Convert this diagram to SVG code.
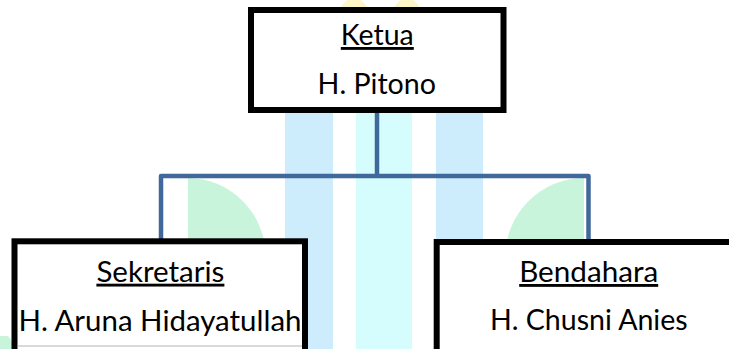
<svg xmlns="http://www.w3.org/2000/svg" width="729" height="349" viewBox="0 0 729 349">
  <style>
    .box { fill: #ffffff; stroke: #000000; stroke-width: 6; stroke-linejoin: miter; }
    .conn { fill: none; stroke: #41689a; stroke-width: 4.5; stroke-linejoin: round; }
    .t { font-family: Lato, "Open Sans", "Liberation Sans", sans-serif; font-size: 28.5px; fill: #000000; text-anchor: middle; }
    .u { text-decoration: underline; }
    .wm-blue { fill: #cdedfc; }
    .wm-cyan { fill: #d6fdfd; }
    .wm-green { fill: #c9f4dc; }
    .wm-yellow { fill: #fdf6c8; }
  </style>
  <rect width="729" height="349" fill="#ffffff"/>
  <g id="watermark">
    <rect class="wm-blue" x="285" y="100" width="48" height="249"/>
    <rect class="wm-cyan" x="356" y="100" width="56" height="249"/>
    <rect class="wm-blue" x="436" y="100" width="47" height="249"/>
    <path class="wm-green" d="M188,258 L188,178 A78,80 0 0 1 266,258 Z"/>
    <path class="wm-green" d="M584,258 L584,178 A79,80 0 0 0 505,258 Z"/>
    <ellipse class="wm-yellow" cx="354" cy="30" rx="19" ry="32"/>
    <ellipse class="wm-yellow" cx="407" cy="30" rx="18" ry="32"/>
    <path class="wm-green" d="M0,336 L8,336 Q13,340 13,349 L0,349 Z"/>
  </g>
  <g id="connectors">
    <path class="conn" d="M377,112 L377,176"/>
    <path class="conn" d="M161,240 L161,176 L588.5,176 L588.5,241"/>
  </g>
  <g id="ketua">
    <rect class="box" x="251" y="10" width="252.5" height="100"/>
    <text class="t u" x="377.3" y="45" textLength="73" lengthAdjust="spacingAndGlyphs">Ketua</text>
    <text class="t" x="376.8" y="94" textLength="118.5" lengthAdjust="spacingAndGlyphs">H. Pitono</text>
  </g>
  <g id="sekretaris">
    <rect class="box" x="14.5" y="241.3" width="290.5" height="160"/>
    <line x1="17.5" y1="346" x2="302" y2="346" stroke="#b4b4b4" stroke-width="1"/>
    <text class="t u" x="160.4" y="281.7" textLength="128" lengthAdjust="spacingAndGlyphs">Sekretaris</text>
    <text class="t" x="160" y="331" textLength="283" lengthAdjust="spacingAndGlyphs">H. Aruna Hidayatullah</text>
  </g>
  <g id="bendahara">
    <rect class="box" x="436.7" y="242" width="330" height="160"/>
    <text class="t u" x="588.7" y="282" textLength="139" lengthAdjust="spacingAndGlyphs">Bendahara</text>
    <text class="t" x="588.8" y="330" textLength="197.7" lengthAdjust="spacingAndGlyphs">H. Chusni Anies</text>
  </g>
</svg>
